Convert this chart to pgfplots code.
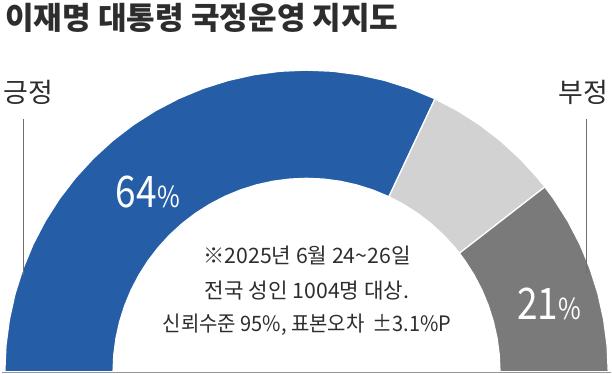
\documentclass[border=0pt]{standalone}
\usepackage{pgfplots}
\pgfplotsset{compat=1.18}
\usepackage{fontspec}
\setmainfont{Noto Sans CJK KR}
\usepackage{graphicx}
\definecolor{cblue}{RGB}{37,94,166}
\definecolor{clight}{RGB}{210,210,210}
\definecolor{cdark}{RGB}{122,122,122}
\definecolor{ctext}{RGB}{45,45,45}
\definecolor{cline}{RGB}{110,110,110}
\definecolor{cbase}{RGB}{150,150,150}
\begin{document}
\begin{tikzpicture}
\begin{axis}[
  width=612bp, height=375bp, scale only axis,
  xmin=-304.5, xmax=307.5, ymin=-9, ymax=366,
  hide axis, clip=false,
]
% 긍정 64%  (180 -> 64.8 deg)
\addplot[fill=cblue, draw=white, line width=1.2pt, data cs=polar] coordinates {
(180,290) (175,290) (170,290) (165,290) (160,290) (155,290) (150,290) (145,290)
(140,290) (135,290) (130,290) (125,290) (120,290) (115,290) (110,290) (105,290)
(100,290) (95,290) (90,290) (85,290) (80,290) (75,290) (70,290) (65,290) (64.8,290)
(64.8,186) (65,186) (70,186) (75,186) (80,186) (85,186) (90,186) (95,186) (100,186)
(105,186) (110,186) (115,186) (120,186) (125,186) (130,186) (135,186) (140,186)
(145,186) (150,186) (155,186) (160,186) (165,186) (170,186) (175,186) (180,186)
} --cycle;
% 기타 15% (64.8 -> 37.8 deg)
\addplot[fill=clight, draw=white, line width=1.2pt, data cs=polar] coordinates {
(64.8,290) (60,290) (55,290) (50,290) (45,290) (40,290) (37.8,290)
(37.8,186) (40,186) (45,186) (50,186) (55,186) (60,186) (64.8,186)
} --cycle;
% 부정 21% (37.8 -> 0 deg)
\addplot[fill=cdark, draw=white, line width=1.2pt, data cs=polar] coordinates {
(37.8,290) (35,290) (30,290) (25,290) (20,290) (15,290) (10,290) (5,290) (0,290)
(0,186) (5,186) (10,186) (15,186) (20,186) (25,186) (30,186) (35,186) (37.8,186)
} --cycle;
% baseline
\addplot[cbase, line width=0.9pt] coordinates {(-292.5,-0.8) (292.5,-0.8)};
% label lines
\addplot[cline, line width=0.8pt] coordinates {(-271.8,243) (-271.8,93)};
\addplot[cline, line width=0.8pt] coordinates {(269.5,243) (269.5,94)};
% texts
\node[anchor=west, text=ctext, font=\fontsize{30}{36}\selectfont\bfseries] at (axis cs:-293,340) {이재명 대통령 국정운영 지지도};
\node[text=ctext, font=\fontsize{26}{30}\selectfont] at (axis cs:-267.5,269) {긍정};
\node[text=ctext, font=\fontsize{26}{30}\selectfont] at (axis cs:266.5,269) {부정};
\node[text=white] at (axis cs:-152.5,173) {\scalebox{0.85}[1]{\fontsize{42}{44}\selectfont 64\fontsize{28}{30}\selectfont\%}};
\node[text=white] at (axis cs:233,65) {\scalebox{0.85}[1]{\fontsize{42}{44}\selectfont 21\fontsize{28}{30}\selectfont\%}};
\node[text=ctext, font=\fontsize{20.5}{24}\selectfont] at (axis cs:0.5,112) {※2025년 6월 24\char`~26일};
\node[text=ctext, font=\fontsize{20.5}{24}\selectfont] at (axis cs:0.5,78) {전국 성인 1004명 대상.};
\node[text=ctext, font=\fontsize{20.5}{24}\selectfont] at (axis cs:0.5,45) {\scalebox{0.94}[1]{신뢰수준 95\%, 표본오차\hspace{0.4em}±3.1\%P}};
\end{axis}
\end{tikzpicture}
\end{document}
